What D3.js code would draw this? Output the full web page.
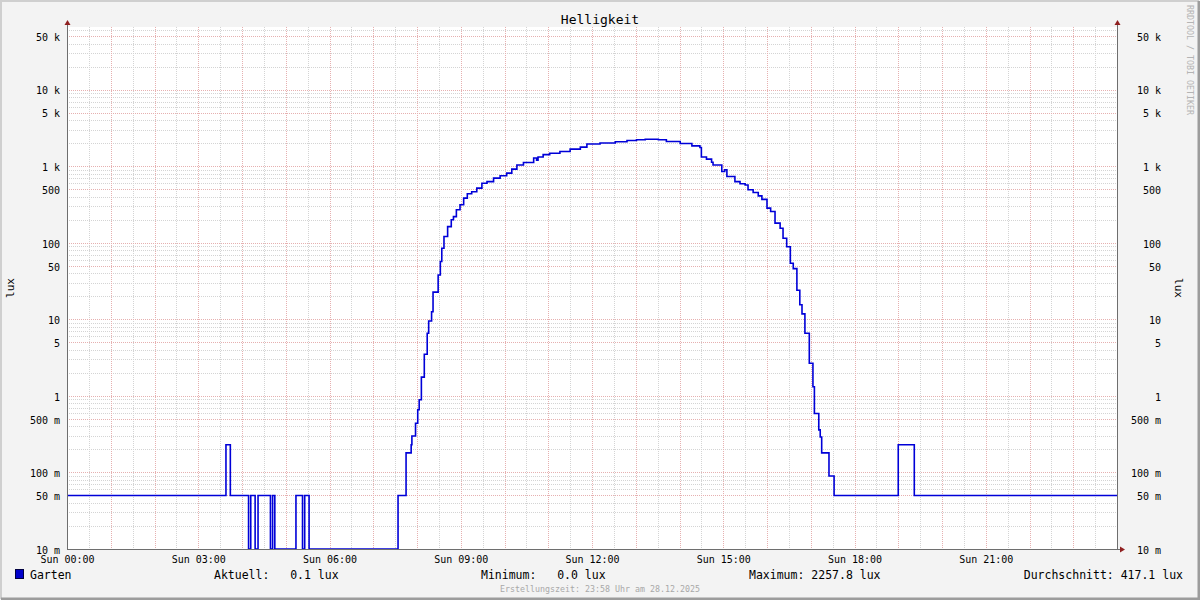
<!DOCTYPE html>
<html>
<head>
<meta charset="utf-8">
<script src="https://cdn.jsdelivr.net/npm/d3@7"></script>
<style>
  body { margin: 0; background: #f3f3f3; }
  svg { display: block; font-family: "DejaVu Sans Mono", monospace; }
</style>
</head>
<body>
<svg width="1200" height="600"></svg>
<script>
// Helligkeit, Sonntag 28.12.2025 (lux, Messwerte aus dem Garten)
var times = ["00:00","03:38","03:44","04:09","04:12","04:18","04:22","04:39","04:42","04:45",
  "05:14","05:23","05:26","05:32","07:34","07:45","07:52","07:53","07:58","08:01",
  "08:03","08:06","08:10","08:14","08:16","08:20","08:22","08:29","08:32","08:34",
  "08:37","08:42","08:47","08:50","08:54","08:59","09:04","09:09","09:15","09:22",
  "09:29","09:36","09:45","09:54","10:03","10:10","10:17","10:26","10:40","10:44",
  "10:46","10:53","11:02","11:16","11:30","11:44","11:53","12:11","12:32","12:48",
  "13:01","13:13","13:31","13:42","14:01","14:17","14:28","14:30","14:37","14:44",
  "14:46","14:58","15:02","15:05","15:16","15:23","15:30","15:34","15:41","15:48",
  "15:53","16:00","16:05","16:11","16:18","16:22","16:27","16:32","16:36","16:41",
  "16:45","16:48","16:52","16:58","17:03","17:05","17:11","17:13","17:15","17:25",
  "17:32","19:00","19:22","24:00"];
var garten = [0.05,0.23,0.05,0,0.05,0,0.05,0,0.05,0,
  0.05,0,0.05,0,0.05,0.18,0.23,0.3,0.44,0.66,
  0.89,1.76,3.5,6.6,9.5,12.6,22.7,38,57,85,
  121,163,200,220,270,314,384,437,465,519,
  600,630,701,752,815,918,1040,1120,1280,1200,
  1320,1420,1480,1560,1675,1780,1955,2010,2090,2170,
  2220,2258,2220,2110,1980,1850,1760,1320,1240,1130,
  1040,855,900,735,630,590,570,493,455,410,
  370,284,256,181,155,115,89,54,46,24,
  15.5,11.8,6.6,2.67,1.32,0.59,0.36,0.29,0.18,0.09,
  0.05,0.23,0.05,0.05];

var yTicks = [0.01,0.05,0.1,0.5,1,5,10,50,100,500,1000,5000,10000,50000];
var yLabels = ["10 m","50 m","100 m","500 m","1","5","10","50","100","500","1 k","5 k","10 k","50 k"];

var legend = [
  {text: "Aktuell:   0.1 lux", x: 214, anchor: "start"},
  {text: "Minimum:   0.0 lux", x: 481, anchor: "start"},
  {text: "Maximum: 2257.8 lux", x: 749, anchor: "start"},
  {text: "Durchschnitt: 417.1 lux", x: 1183, anchor: "end"}
];

var svg = d3.select("svg"),
    margin = {top: 27, right: 83, bottom: 51, left: 67},
    width = +svg.attr("width") - margin.left - margin.right,
    height = +svg.attr("height") - margin.top - margin.bottom;

var day = Date.UTC(2025, 11, 28);
function toDate(s) {
  var p = s.split(":");
  return new Date(day + (+p[0] * 60 + +p[1]) * 60000);
}
var data = times.map(function(t, i) { return {date: toDate(t), value: garten[i]}; });

// Rahmen
svg.append("rect").attr("width", 1200).attr("height", 600).attr("fill", "#f3f3f3");
svg.append("path").attr("d", "M1,599V1H1199").attr("fill", "none").attr("stroke", "#cfcfcf").attr("stroke-width", 2);
svg.append("path").attr("d", "M1,599H1199V1").attr("fill", "none").attr("stroke", "#9c9c9c").attr("stroke-width", 3);

var g = svg.append("g")
    .attr("transform", "translate(" + margin.left + "," + margin.top + ")");

var x = d3.scaleUtc()
    .domain([new Date(day), new Date(day + 86400000)])
    .range([0, width]);

var y = d3.scaleLog()
    .domain([0.01, 66000])
    .range([height, 0])
    .clamp(true);

g.append("rect").attr("width", width).attr("height", height).attr("fill", "#fff");

// Gitter
var minorY = [], majorY = [];
for (var e = -2; e <= 4; e++) {
  for (var k = 1; k <= 9; k++) {
    var v = k * Math.pow(10, e);
    if (v > 66000) continue;
    if (k === 1 || k === 5) majorY.push(v); else minorY.push(v);
  }
}
var minorX = d3.utcMinute.every(30).range(x.domain()[0], x.domain()[1]).filter(function(d) { return d.getUTCMinutes() === 30; });
var majorX = d3.utcHour.range(x.domain()[0], x.domain()[1]).slice(1);

var minorCol = "#d4d4d4", majorCol = "#e6b0b0";
g.append("g").selectAll("line").data(minorY).enter().append("line")
    .attr("x1", 0).attr("x2", width)
    .attr("y1", function(d) { return Math.round(y(d)) + 0.5; })
    .attr("y2", function(d) { return Math.round(y(d)) + 0.5; })
    .attr("stroke", minorCol).attr("stroke-dasharray", "1,1");
g.append("g").selectAll("line").data(minorX).enter().append("line")
    .attr("y1", 0).attr("y2", height)
    .attr("x1", function(d) { return Math.round(x(d)) + 0.5; })
    .attr("x2", function(d) { return Math.round(x(d)) + 0.5; })
    .attr("stroke", minorCol).attr("stroke-dasharray", "1,1");
g.append("g").selectAll("line").data(majorY).enter().append("line")
    .attr("x1", 0).attr("x2", width)
    .attr("y1", function(d) { return Math.round(y(d)) + 0.5; })
    .attr("y2", function(d) { return Math.round(y(d)) + 0.5; })
    .attr("stroke", majorCol).attr("stroke-dasharray", "1,1");
g.append("g").selectAll("line").data(majorX).enter().append("line")
    .attr("y1", 0).attr("y2", height)
    .attr("x1", function(d) { return Math.round(x(d)) + 0.5; })
    .attr("x2", function(d) { return Math.round(x(d)) + 0.5; })
    .attr("stroke", majorCol).attr("stroke-dasharray", "1,1");

// Linie
var line = d3.line()
    .curve(d3.curveStepAfter)
    .x(function(d) { return x(d.date); })
    .y(function(d) { return y(d.value); });

g.append("path")
    .datum(data)
    .attr("fill", "none")
    .attr("stroke", "#0000d8")
    .attr("stroke-width", 1.6)
    .attr("d", line);

// Achsen
var axisCol = "#6e6e6e", arrowCol = "#902020";
g.append("line").attr("x1", 0.5).attr("x2", 0.5).attr("y1", -4).attr("y2", height + 0.5).attr("stroke", axisCol);
g.append("line").attr("x1", width + 0.5).attr("x2", width + 0.5).attr("y1", -4).attr("y2", height + 0.5).attr("stroke", axisCol);
g.append("line").attr("x1", 0).attr("x2", width + 4).attr("y1", height + 0.5).attr("y2", height + 0.5).attr("stroke", axisCol);
g.append("path").attr("d", "M-2.5,-2L3.5,-2L0.5,-7Z").attr("fill", arrowCol);
g.append("path").attr("d", "M" + (width - 2.5) + ",-2L" + (width + 3.5) + ",-2L" + (width + 0.5) + ",-7Z").attr("fill", arrowCol);
g.append("path").attr("d", "M" + (width + 3) + "," + (height - 2.5) + "L" + (width + 3) + "," + (height + 3.5) + "L" + (width + 8) + "," + (height + 0.5) + "Z").attr("fill", arrowCol);

var xAxis = d3.axisBottom(x)
    .tickValues(d3.utcHour.every(3).range(x.domain()[0], x.domain()[1]))
    .tickFormat(d3.utcFormat("%a %H:%M"))
    .tickSize(0).tickPadding(7);
var yAxisL = d3.axisLeft(y)
    .tickValues(yTicks)
    .tickFormat(function(d, i) { return yLabels[i]; })
    .tickSize(0).tickPadding(7);
var yAxisR = d3.axisLeft(y)
    .tickValues(yTicks)
    .tickFormat(function(d, i) { return yLabels[i]; })
    .tickSize(0).tickPadding(0);

[g.append("g").attr("transform", "translate(0," + height + ")").call(xAxis),
 g.append("g").attr("transform", "translate(0,1)").call(yAxisL),
 g.append("g").attr("transform", "translate(" + (width + 44) + ",1)").call(yAxisR)
].forEach(function(a) {
  a.select(".domain").remove();
  a.selectAll("text").attr("font-family", "DejaVu Sans Mono").attr("font-size", 10).attr("fill", "#000");
});

// Beschriftung
svg.append("text").attr("x", 600).attr("y", 24).attr("text-anchor", "middle")
    .attr("font-size", 13).text("Helligkeit");
svg.append("text").attr("transform", "translate(14,288) rotate(-90)").attr("text-anchor", "middle")
    .attr("font-size", 11).text("lux");
svg.append("text").attr("transform", "translate(1175,288) rotate(90)").attr("text-anchor", "middle")
    .attr("font-size", 11).text("lux");
svg.append("text").attr("transform", "translate(1187,5) rotate(90)").attr("text-anchor", "start")
    .attr("font-size", 8.3).attr("fill", "#b4b4b4").text("RRDTOOL / TOBI OETIKER");

svg.append("rect").attr("x", 15.5).attr("y", 569.5).attr("width", 8).attr("height", 9)
    .attr("fill", "#0000cc").attr("stroke", "#000040");
svg.append("text").attr("x", 30).attr("y", 579).attr("font-size", 11.5).text("Garten");
svg.selectAll("text.leg").data(legend).enter().append("text")
    .attr("class", "leg")
    .attr("x", function(d) { return d.x; })
    .attr("y", 579)
    .attr("text-anchor", function(d) { return d.anchor; })
    .attr("font-size", 11.5)
    .attr("xml:space", "preserve")
    .style("white-space", "pre")
    .text(function(d) { return d.text; });
svg.append("text").attr("x", 600).attr("y", 592).attr("text-anchor", "middle")
    .attr("font-size", 8.3).attr("fill", "#a8a8a8").text("Erstellungszeit: 23:58 Uhr am 28.12.2025");
</script>
</body>
</html>
